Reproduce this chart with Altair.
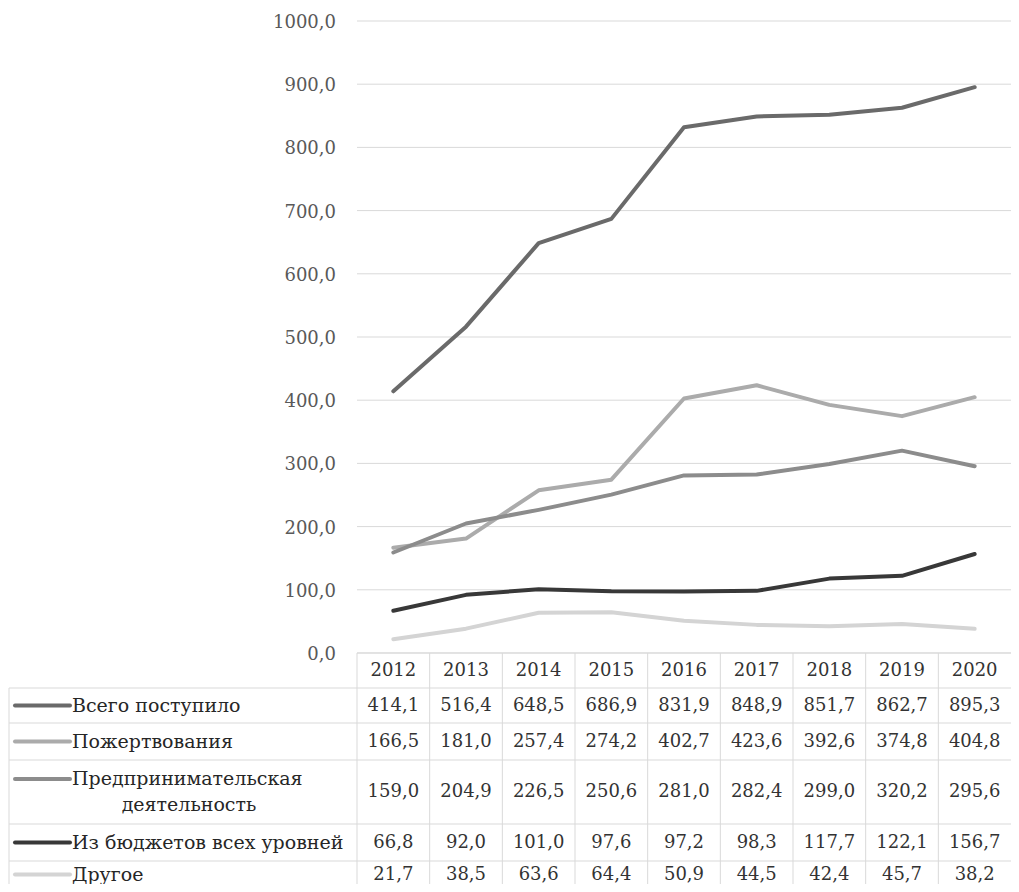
import altair as alt
import pandas as pd

# ---------------- data ----------------
years = [2012, 2013, 2014, 2015, 2016, 2017, 2018, 2019, 2020]
series_names = [
    "Всего поступило",
    "Пожертвования",
    "Предпринимательская деятельность",
    "Из бюджетов всех уровней",
    "Другое",
]
total = [414.1, 516.4, 648.5, 686.9, 831.9, 848.9, 851.7, 862.7, 895.3]
donations = [166.5, 181.0, 257.4, 274.2, 402.7, 423.6, 392.6, 374.8, 404.8]
business = [159.0, 204.9, 226.5, 250.6, 281.0, 282.4, 299.0, 320.2, 295.6]
budget = [66.8, 92.0, 101.0, 97.6, 97.2, 98.3, 117.7, 122.1, 156.7]
other = [21.7, 38.5, 63.6, 64.4, 50.9, 44.5, 42.4, 45.7, 38.2]
y_ticks = [0, 100, 200, 300, 400, 500, 600, 700, 800, 900, 1000]

series_values = [total, donations, business, budget, other]
colors = ["#6a6a6a", "#ababab", "#8c8c8c", "#383838", "#d4d4d4"]

# ---------------- layout ----------------
W, H = 1002, 863
LABEL_W = 348
NCOL = len(years)
COLW = (W - LABEL_W) / NCOL
XMIN = -LABEL_W / COLW
PLOT_H = 632
ROW_H = [35, 35, 37, 64, 37, 27]  # header + one per series
TAB_TOTAL = sum(ROW_H)
FONT = "DejaVu Serif"
FS = 18
FS_LEG = 19

cum = [0]
for h in ROW_H:
    cum.append(cum[-1] + h)

X_SCALE = alt.Scale(domain=[XMIN, NCOL], nice=False, zero=False)
Y_VAL = alt.Scale(domain=[0, 1000], range=[PLOT_H, 0], nice=False, zero=False)
Y_TAB = alt.Scale(domain=[0, TAB_TOTAL], range=[PLOT_H, PLOT_H + TAB_TOTAL], nice=False, zero=False)
C_SCALE = alt.Scale(domain=series_names, range=colors)


def fmt(v):
    return f"{v:.1f}".replace(".", ",")


# lines data
rows = []
for name, vals in zip(series_names, series_values):
    for i, (yr, v) in enumerate(zip(years, vals)):
        rows.append({"series": name, "year": yr, "xc": i + 0.5, "value": v, "label": fmt(v)})
df_lines = pd.DataFrame(rows)

# gridlines + y labels
df_ticks = pd.DataFrame({"v": y_ticks, "x0": 0, "x1": NCOL, "label": [fmt(t) for t in y_ticks]})

grid = alt.Chart(df_ticks).mark_rule(color="#d9d9d9", strokeWidth=1).encode(
    y=alt.Y("v:Q", scale=Y_VAL, axis=None),
    x=alt.X("x0:Q", scale=X_SCALE, axis=None),
    x2="x1:Q",
)
ylabels = alt.Chart(df_ticks).mark_text(
    align="right", baseline="middle", font=FONT, fontSize=FS, color="#595959", dy=2
).encode(
    y=alt.Y("v:Q", scale=Y_VAL, axis=None),
    x=alt.value(LABEL_W - 21),
    text="label:N",
)
lines = alt.Chart(df_lines).mark_line(strokeWidth=4, strokeCap="round", strokeJoin="round").encode(
    x=alt.X("xc:Q", scale=X_SCALE, axis=None),
    y=alt.Y("value:Q", scale=Y_VAL, axis=None),
    color=alt.Color("series:N", scale=C_SCALE, legend=None),
    detail="series:N",
)

# ---------------- table ----------------
hl = [{"y": 0, "x0": 0, "x1": NCOL}]
for k in range(1, len(cum)):
    hl.append({"y": cum[k], "x0": XMIN, "x1": NCOL})
df_h = pd.DataFrame(hl)
vl = [{"x": i, "y0": 0, "y1": TAB_TOTAL + 20} for i in range(NCOL)]
vl.append({"x": XMIN, "y0": cum[1], "y1": TAB_TOTAL + 20})
df_v = pd.DataFrame(vl)

hrules = alt.Chart(df_h).mark_rule(color="#d9d9d9", strokeWidth=1).encode(
    y=alt.Y("y:Q", scale=Y_TAB, axis=None),
    x=alt.X("x0:Q", scale=X_SCALE, axis=None),
    x2="x1:Q",
)
vrules = alt.Chart(df_v).mark_rule(color="#d9d9d9", strokeWidth=1).encode(
    x=alt.X("x:Q", scale=X_SCALE, axis=None),
    y=alt.Y("y0:Q", scale=Y_TAB, axis=None),
    y2="y1:Q",
)

df_hdr = pd.DataFrame({"xc": [i + 0.5 for i in range(NCOL)], "y": ROW_H[0] / 2, "label": [str(y) for y in years]})
hdr = alt.Chart(df_hdr).mark_text(font=FONT, fontSize=FS, color="#333333", baseline="middle").encode(
    x=alt.X("xc:Q", scale=X_SCALE, axis=None),
    y=alt.Y("y:Q", scale=Y_TAB, axis=None),
    text="label:N",
)

row_center = {name: (cum[k + 1] + cum[k + 2]) / 2 for k, name in enumerate(series_names)}
df_vals = df_lines.copy()
df_vals["yc"] = df_vals["series"].map(row_center)
vals = alt.Chart(df_vals).mark_text(font=FONT, fontSize=FS, color="#333333", baseline="middle").encode(
    x=alt.X("xc:Q", scale=X_SCALE, axis=None),
    y=alt.Y("yc:Q", scale=Y_TAB, axis=None),
    text="label:N",
)

# legend column (swatch + label)
leg_rows = []
leg2_rows = []
for name in series_names:
    c = row_center[name]
    if len(name) > 25:
        a, b = name.split(" ", 1)
        leg_rows.append({"series": name, "y": c - 13, "text": a})
        leg2_rows.append({"series": name, "y": c + 13, "text": b})
    else:
        leg_rows.append({"series": name, "y": c, "text": name})
df_leg = pd.DataFrame(leg_rows)
df_leg2 = pd.DataFrame(leg2_rows)

swatch = alt.Chart(df_leg).mark_rule(strokeWidth=4, strokeCap="round").encode(
    x=alt.value(6),
    x2=alt.value(61),
    y=alt.Y("y:Q", scale=Y_TAB, axis=None),
    color=alt.Color("series:N", scale=C_SCALE, legend=None),
)
legtext = alt.Chart(df_leg).mark_text(font=FONT, fontSize=FS_LEG, color="#262626", align="left", baseline="middle").encode(
    x=alt.value(63),
    y=alt.Y("y:Q", scale=Y_TAB, axis=None),
    text="text:N",
)
legtext2 = alt.Chart(df_leg2).mark_text(font=FONT, fontSize=FS_LEG, color="#262626", align="center", baseline="middle").encode(
    x=alt.value(180),
    y=alt.Y("y:Q", scale=Y_TAB, axis=None),
    text="text:N",
)

chart = (
    alt.layer(grid, ylabels, lines, hrules, vrules, hdr, vals, swatch, legtext, legtext2)
    .resolve_scale(y="independent")
    .properties(
        width=W,
        height=H,
        padding={"left": 1, "top": 13, "right": 0, "bottom": 0},
        autosize=alt.AutoSizeParams(type="none"),
        background="white",
    )
    .configure_view(stroke=None)
)

chart.save("out.html", embed_options={"renderer": "svg", "actions": False})
